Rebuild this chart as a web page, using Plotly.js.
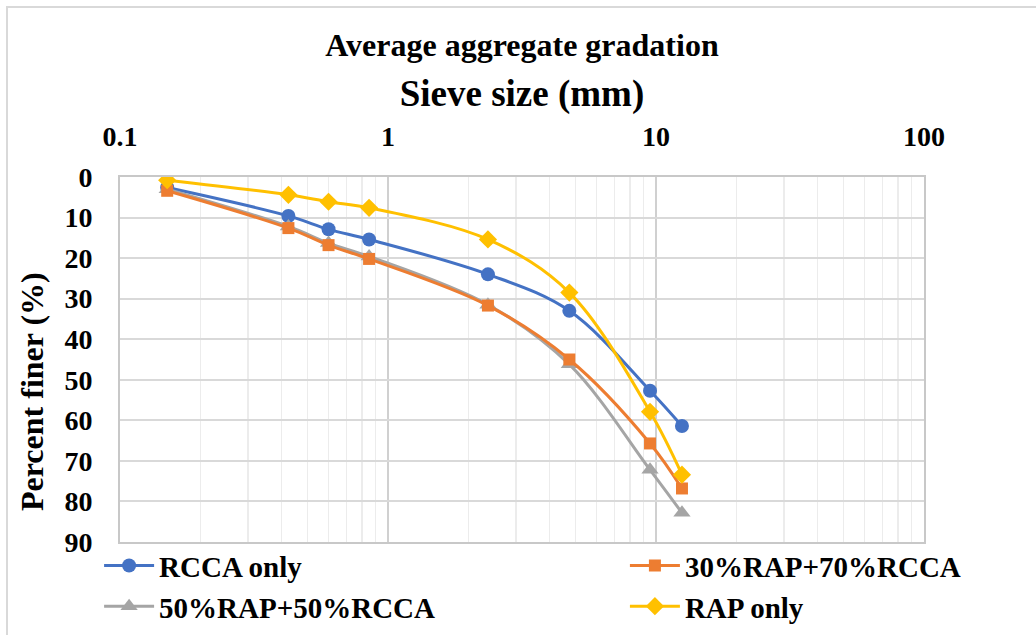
<!DOCTYPE html>
<html>
<head>
<meta charset="utf-8">
<script src="https://cdn.plot.ly/plotly-3.0.1.min.js"></script>
<style>
html,body{margin:0;padding:0;background:#fff;}
#wrap{position:relative;width:1036px;height:635px;overflow:hidden;}
#chart{width:1036px;height:635px;}
#frame{position:absolute;left:6px;top:6px;width:1040px;height:640px;border:2px solid #d9d9d9;box-sizing:border-box;pointer-events:none;}
</style>
</head>
<body>
<div id="wrap"><div id="chart"></div><div id="frame"></div></div>
<script>
const sieveSize = [0.15, 0.425, 0.6, 0.85, 2.36, 4.75, 9.5, 12.5];
const rccaOnly = [2.6, 9.6, 12.9, 15.4, 24.0, 33.0, 52.7, 61.4];
const rap30Rcca70 = [3.4, 12.6, 16.8, 20.2, 31.7, 45.0, 65.7, 76.8];
const rap50Rcca50 = [3.0, 12.2, 16.3, 19.6, 31.5, 46.2, 72.2, 82.8];
const rapOnly = [0.8, 4.4, 6.1, 7.6, 15.4, 28.5, 57.9, 73.4];
const seriesNames = ["RCCA only", "30%RAP+70%RCCA", "50%RAP+50%RCCA", "RAP only"];
const xTickVals = [0.1, 1, 10, 100];
const xTickText = ["0.1", "1", "10", "100"];
const yTickVals = [0, 10, 20, 30, 40, 50, 60, 70, 80, 90];
const yTickText = ["0", "10", "20", "30", "40", "50", "60", "70", "80", "90"];

const serif = "Liberation Serif, serif";
const bold = t => "<b>" + t + "</b>";

function mk(name, y, color, symbol, size, legend) {
  return {
    x: sieveSize, y: y, name: name, type: "scatter", mode: "lines+markers",
    line: {color: color, width: 3, shape: "spline", smoothing: 1},
    marker: {color: color, symbol: symbol, size: size},
    legend: legend
  };
}

const data = [
  mk(seriesNames[0], rccaOnly, "#4472C4", "circle", 14, "legend"),
  mk(seriesNames[2], rap50Rcca50, "#A5A5A5", "triangle-up", 15, "legend"),
  mk(seriesNames[1], rap30Rcca70, "#ED7D31", "square", 12, "legend2"),
  mk(seriesNames[3], rapOnly, "#FFC000", "diamond", 14, "legend2")
];

const legendBase = {
  orientation: "v", yanchor: "top", y: 0.005, xanchor: "left",
  font: {family: serif, size: 29, color: "#000", weight: "bold"},
  bgcolor: "rgba(0,0,0,0)", itemwidth: 50, tracegroupgap: 0
};

const layout = {
  width: 1036, height: 635,
  margin: {l: 120, r: 112, t: 177, b: 93, autoexpand: false},
  paper_bgcolor: "#fff", plot_bgcolor: "#fff",
  showlegend: true,
  title: {
    text: bold("Average aggregate gradation"),
    font: {family: serif, size: 32, color: "#000"},
    x: 0.5, xref: "paper", xanchor: "center",
    y: 1 - 45/635, yref: "container", yanchor: "middle"
  },
  xaxis: {
    type: "log", side: "top", range: [-1, 2],
    tickvals: xTickVals, ticktext: xTickText.map(bold),
    tickfont: {family: serif, size: 28, color: "#000"},
    ticks: "", ticklabelstandoff: 18,
    showgrid: true, gridcolor: "#d0d0d0", gridwidth: 2,
    minor: {showgrid: true, gridcolor: "#ececec", gridwidth: 1.5, dtick: "D1", ticks: ""},
    showline: true, mirror: true, linecolor: "#c8c8c8", linewidth: 2,
    zeroline: false,
    title: {text: bold("Sieve size (mm)"), font: {family: serif, size: 37, color: "#000"}, standoff: 3}
  },
  yaxis: {
    range: [90, 0], tickvals: yTickVals, ticktext: yTickText.map(bold),
    tickfont: {family: serif, size: 28, color: "#000"},
    ticks: "", ticklabelstandoff: 20,
    showgrid: true, gridcolor: "#d9d9d9", gridwidth: 2,
    showline: true, mirror: true, linecolor: "#c8c8c8", linewidth: 2,
    zeroline: false
  },
  annotations: [{
    text: bold("Percent finer (%)"), textangle: -90,
    xref: "paper", yref: "paper", x: (32 - 120) / 804, y: (542 - 392) / 365,
    xanchor: "center", yanchor: "middle", showarrow: false,
    font: {family: serif, size: 32, color: "#000"}
  }],
  legend: Object.assign({}, legendBase, {x: -0.026}),
  legend2: Object.assign({}, legendBase, {x: 0.628})
};

Plotly.newPlot("chart", data, layout, {displayModeBar: false, staticPlot: true});
</script>
</body>
</html>
